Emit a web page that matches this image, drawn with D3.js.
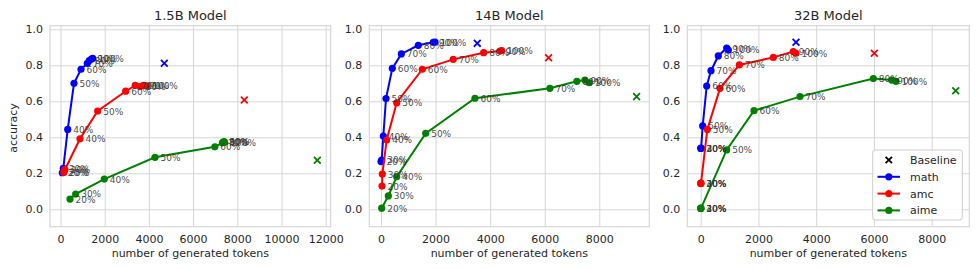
<!DOCTYPE html>
<html>
<head>
<meta charset="utf-8">
<script src="https://cdn.jsdelivr.net/npm/d3@7"></script>
<style>
  html, body { margin: 0; padding: 0; background: #fff; }
  svg { display: block; font-family: "DejaVu Sans", sans-serif; }
</style>
</head>
<body>
<svg id="chart" width="977" height="269"></svg>
<script>
// ---------------- DATA ----------------
const panelTitles = ["1.5B Model", "14B Model", "32B Model"];
const seriesNames = ["math", "amc", "aime"];
const pointLabels = ["20%", "30%", "40%", "50%", "60%", "70%", "80%", "90%", "100%"];

// 1.5B model
const math15Tokens = [81, 127, 326, 611, 928, 1213, 1303, 1400, 1457];
const math15Acc    = [0.203, 0.228, 0.444, 0.700, 0.778, 0.811, 0.826, 0.835, 0.839];
const amc15Tokens  = [150, 200, 882, 1683, 2950, 3380, 3600, 3760, 3900];
const amc15Acc     = [0.205, 0.220, 0.392, 0.546, 0.656, 0.688, 0.682, 0.688, 0.686];
const aime15Tokens = [430, 686, 1983, 4276, 6985, 7330, 7370, 7400, 7430];
const aime15Acc    = [0.057, 0.085, 0.168, 0.289, 0.347, 0.370, 0.374, 0.376, 0.372];
const base15Tokens = [4697, 8317, 11620];
const base15Acc    = [0.811, 0.607, 0.272];

// 14B model
const math14Tokens = [0, 25, 85, 183, 415, 745, 1367, 1917, 1978];
const math14Acc    = [0.265, 0.274, 0.407, 0.615, 0.783, 0.863, 0.911, 0.928, 0.929];
const amc14Tokens  = [37, 48, 208, 575, 1514, 2648, 3762, 4359, 4420];
const amc14Acc     = [0.129, 0.196, 0.385, 0.592, 0.778, 0.833, 0.870, 0.879, 0.881];
const aime14Tokens = [25, 268, 575, 1637, 3443, 6190, 7179, 7473, 7630];
const aime14Acc    = [0.006, 0.074, 0.181, 0.422, 0.617, 0.672, 0.711, 0.718, 0.703];
const base14Tokens = [3528, 6142, 9366];
const base14Acc    = [0.922, 0.842, 0.626];

// 32B model
const math32Tokens = [5, 10, 15, 69, 208, 357, 610, 900, 957];
const math32Acc    = [0.338, 0.340, 0.339, 0.463, 0.685, 0.770, 0.852, 0.896, 0.885];
const amc32Tokens  = [0, 5, 10, 230, 668, 1338, 2515, 3208, 3300];
const amc32Acc     = [0.144, 0.145, 0.144, 0.444, 0.672, 0.802, 0.844, 0.876, 0.867];
const aime32Tokens = [0, 5, 10, 900, 1846, 3439, 5979, 6614, 6763];
const aime32Acc    = [0.005, 0.006, 0.005, 0.330, 0.548, 0.626, 0.726, 0.718, 0.711];
const base32Tokens = [3300, 6013, 8831];
const base32Acc    = [0.928, 0.867, 0.659];

const xTickValues = [
  [0, 2000, 4000, 6000, 8000, 10000, 12000],
  [0, 2000, 4000, 6000, 8000],
  [0, 2000, 4000, 6000, 8000]
];
const yTickValues = [0.0, 0.2, 0.4, 0.6, 0.8, 1.0];

// ---------------- LAYOUT ----------------
const colors = { math: "#0000ff", amc: "#ff0000", aime: "#008000" };
const panelLeft  = [50, 369.3, 687.3];
const panelRight = [330.7, 649.3, 969.3];
const panelTop = 25.7, panelBottom = 226.7;
const xLimits = [[-475, 12226], [-429, 9832], [-464, 9302]];
const yLimits = [-0.0967, 1.02];
const textColor = "#262626";
const gridColor = "#d6d6d6";

const panelsData = [
  { series: [[math15Tokens, math15Acc], [amc15Tokens, amc15Acc], [aime15Tokens, aime15Acc]], base: [base15Tokens, base15Acc] },
  { series: [[math14Tokens, math14Acc], [amc14Tokens, amc14Acc], [aime14Tokens, aime14Acc]], base: [base14Tokens, base14Acc] },
  { series: [[math32Tokens, math32Acc], [amc32Tokens, amc32Acc], [aime32Tokens, aime32Acc]], base: [base32Tokens, base32Acc] }
];

const svg = d3.select("#chart");

panelsData.forEach((pd, pi) => {
  const x = d3.scaleLinear().domain(xLimits[pi]).range([panelLeft[pi], panelRight[pi]]);
  const y = d3.scaleLinear().domain(yLimits).range([panelBottom, panelTop]);
  const g = svg.append("g");

  // grid via axes
  const xGrid = d3.axisBottom(x).tickValues(xTickValues[pi]).tickSize(-(panelBottom - panelTop)).tickFormat("");
  g.append("g").attr("transform", `translate(0,${panelBottom})`).call(xGrid)
    .call(s => s.select(".domain").remove())
    .call(s => s.selectAll("line").attr("stroke", gridColor).attr("stroke-width", 1));
  const yGrid = d3.axisLeft(y).tickValues(yTickValues).tickSize(-(panelRight[pi] - panelLeft[pi])).tickFormat("");
  g.append("g").attr("transform", `translate(${panelLeft[pi]},0)`).call(yGrid)
    .call(s => s.select(".domain").remove())
    .call(s => s.selectAll("line").attr("stroke", gridColor).attr("stroke-width", 1));

  // tick labels via axes
  const xAxis = d3.axisBottom(x).tickValues(xTickValues[pi]).tickSize(0).tickPadding(9).tickFormat(d3.format("d"));
  g.append("g").attr("transform", `translate(0,${panelBottom})`).call(xAxis)
    .call(s => s.select(".domain").remove())
    .call(s => s.selectAll("text").attr("fill", textColor).attr("font-size", 11).attr("font-family", "DejaVu Sans"));
  const yAxis = d3.axisLeft(y).tickValues(yTickValues).tickSize(0).tickPadding(7).tickFormat(d3.format(".1f"));
  g.append("g").attr("transform", `translate(${panelLeft[pi]},0)`).call(yAxis)
    .call(s => s.select(".domain").remove())
    .call(s => s.selectAll("text").attr("fill", textColor).attr("font-size", 11).attr("font-family", "DejaVu Sans"));

  // frame
  g.append("rect")
    .attr("x", panelLeft[pi]).attr("y", panelTop)
    .attr("width", panelRight[pi] - panelLeft[pi]).attr("height", panelBottom - panelTop)
    .attr("fill", "none").attr("stroke", gridColor).attr("stroke-width", 1.2);

  const clipId = "clip" + pi;
  svg.append("defs").append("clipPath").attr("id", clipId).append("rect")
    .attr("x", panelLeft[pi]).attr("y", panelTop)
    .attr("width", panelRight[pi] - panelLeft[pi]).attr("height", panelBottom - panelTop);

  const plot = g.append("g");

  // series
  pd.series.forEach((s, si) => {
    const col = colors[seriesNames[si]];
    const pts = s[0].map((t, i) => [t, s[1][i], pointLabels[i]]);
    const line = d3.line().x(d => x(d[0])).y(d => y(d[1]));
    plot.append("path").datum(pts).attr("d", line)
      .attr("fill", "none").attr("stroke", col).attr("stroke-width", 2);
    plot.selectAll(null).data(pts).enter().append("circle")
      .attr("cx", d => x(d[0])).attr("cy", d => y(d[1])).attr("r", 3.6)
      .attr("fill", col);
  });
  // annotations
  pd.series.forEach((s, si) => {
    const pts = s[0].map((t, i) => [t, s[1][i], pointLabels[i]]);
    plot.selectAll(null).data(pts).enter().append("text")
      .attr("x", d => x(d[0]) + 5.5).attr("y", d => y(d[1]) + 3.5)
      .attr("font-size", 9).attr("fill", "#333333").attr("fill-opacity", 0.9)
      .text(d => d[2]);
  });

  // baselines
  const bx = pd.base[0], by = pd.base[1];
  bx.forEach((t, i) => {
    const cx = x(t), cy = y(by[i]), r = 3.4;
    const col = colors[seriesNames[i]];
    plot.append("path")
      .attr("d", `M${cx - r},${cy - r}L${cx + r},${cy + r}M${cx - r},${cy + r}L${cx + r},${cy - r}`)
      .attr("stroke", col).attr("stroke-width", 1.8).attr("fill", "none");
  });

  // title
  svg.append("text")
    .attr("x", (panelLeft[pi] + panelRight[pi]) / 2).attr("y", 19.5)
    .attr("text-anchor", "middle").attr("font-size", 13).attr("fill", textColor)
    .text(panelTitles[pi]);

  // x label
  svg.append("text")
    .attr("x", (panelLeft[pi] + panelRight[pi]) / 2).attr("y", 257)
    .attr("text-anchor", "middle").attr("font-size", 11).attr("fill", textColor)
    .text("number of generated tokens");

  // legend on last panel
  if (pi === 2) {
    const lg = svg.append("g");
    lg.append("rect").attr("x", 872.7).attr("y", 150).attr("width", 89.6).attr("height", 70)
      .attr("rx", 2.5).attr("fill", "#ffffff").attr("fill-opacity", 0.85)
      .attr("stroke", "#cccccc").attr("stroke-width", 1);
    const entries = ["Baseline"].concat(seriesNames);
    entries.forEach((name, i) => {
      const yy = 160 + i * 16.8;
      if (i === 0) {
        const cx = 888.8, r = 3.2;
        lg.append("path")
          .attr("d", `M${cx - r},${yy - r}L${cx + r},${yy + r}M${cx - r},${yy + r}L${cx + r},${yy - r}`)
          .attr("stroke", "#000").attr("stroke-width", 1.8);
      } else {
        const col = colors[name];
        lg.append("line").attr("x1", 877.5).attr("x2", 900).attr("y1", yy).attr("y2", yy)
          .attr("stroke", col).attr("stroke-width", 2);
        lg.append("circle").attr("cx", 888.8).attr("cy", yy).attr("r", 3.6).attr("fill", col);
      }
      lg.append("text").attr("x", 910).attr("y", yy + 4).attr("font-size", 11)
        .attr("fill", textColor).text(name);
    });
  }
});

// y label
svg.append("text")
  .attr("transform", "translate(16.5,128) rotate(-90)")
  .attr("text-anchor", "middle").attr("font-size", 11).attr("fill", textColor)
  .text("accuracy");
</script>
</body>
</html>
